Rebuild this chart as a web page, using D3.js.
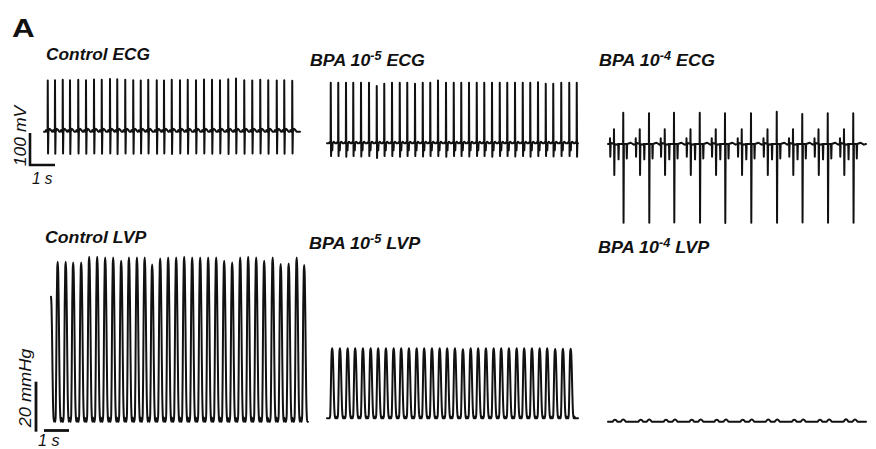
<!DOCTYPE html>
<html><head><meta charset="utf-8">
<script src="https://cdn.jsdelivr.net/npm/d3@7/dist/d3.min.js"></script>
<style>
body{margin:0;background:#fff}
svg{display:block}
text{font-family:"Liberation Sans",Arial,Helvetica,sans-serif;fill:#111}
</style>
</head><body>
<svg id="c" width="876" height="449"></svg>
<script>
// ---------------- DATA ----------------
// Titles
const titleMain = ["Control ECG", "BPA 10", "BPA 10", "Control LVP", "BPA 10", "BPA 10"];
const titleSup  = ["", "-5", "-4", "", "-5", "-4"];
const titleTail = ["", " ECG", " ECG", "", " LVP", " LVP"];
const panelLetter = "A";
const ecgBarLabel = "100 mV";
const lvpBarLabel = "20 mmHg";
const timeBarLabel = "1 s";
const ecgBarValue = 100;   // mV
const lvpBarValue = 20;    // mmHg
const timeBarValue = 1;    // s

// Trace durations (s)
const ecgDurations = [10.24, 10.04, 10.32];
const lvpDurations = [10.28, 10.04, 10.32];

// Control ECG: R-spike times (s), R amplitude (mV), S amplitude (mV)
const ctrlEcgTimes = [0.15,0.44,0.75,1.04,1.37,1.68,2.00,2.31,2.64,2.93,3.25,3.57,3.87,4.17,4.51,4.80,5.11,5.44,5.75,6.08,6.40,6.72,7.04,7.37,7.68,8.01,8.33,8.65,8.97,9.31,9.61,9.93];
const ctrlEcgUp    = [160,161,162,161,162,161,163,162,165,164,162,161,160,162,161,160,162,161,162,161,163,162,161,164,166,161,160,162,161,160,161,159];
const ctrlEcgDown  = [-68,-69,-68,-70,-68,-69,-68,-69,-68,-70,-68,-69,-68,-68,-69,-68,-70,-68,-69,-68,-68,-69,-68,-70,-68,-69,-68,-68,-69,-68,-69,-68];

// BPA 10^-5 ECG
const bpa5EcgTimes = [0.15,0.45,0.76,1.05,1.36,1.68,1.99,2.29,2.60,2.91,3.21,3.52,3.83,4.13,4.44,4.76,5.07,5.37,5.68,5.99,6.29,6.60,6.91,7.21,7.52,7.83,8.13,8.44,8.75,9.05,9.37,9.69,9.99];
const bpa5EcgUp    = [189,189,189,189,189,189,179,186,189,189,189,186,189,189,196,189,189,189,189,189,189,189,189,189,189,189,189,191,186,186,189,189,189];
const bpa5EcgDown  = [-40,-40,-42,-40,-41,-40,-46,-40,-40,-42,-40,-40,-41,-40,-40,-42,-40,-40,-41,-40,-40,-42,-40,-40,-41,-40,-42,-40,-40,-41,-40,-40,-42];

// BPA 10^-4 ECG: large complexes plus minor deflections around each
const bpa4EcgTimes = [0.61,1.64,2.64,3.67,4.68,5.72,6.75,7.77,8.79,9.81];
const bpa4EcgUp    = [98,96,98,98,96,96,101,94,96,96];
const bpa4EcgDown  = [-246,-246,-245,-246,-247,-246,-246,-245,-246,-246];
const bpa4MinorOffset = [-0.53,-0.37,-0.20,0.13];
const bpa4MinorUp     = [18,46,0,0];
const bpa4MinorDown   = [-40,-97,-48,-45];

// Control LVP: systolic peak times (s) and peak pressure (mmHg above diastolic)
const ctrlLvpTimes = [0.00,0.27,0.59,0.89,1.21,1.53,1.85,2.17,2.49,2.81,3.12,3.44,3.75,4.05,4.37,4.69,5.01,5.33,5.65,5.97,6.29,6.61,6.93,7.25,7.57,7.89,8.21,8.53,8.87,9.19,9.51,9.83,10.13];
const ctrlLvpPeaks = [50,64.0,64.0,63.7,63.7,66.0,66.0,65.7,65.7,64.4,65.7,65.7,65.7,62.9,65.3,65.7,65.7,66.0,65.7,65.7,65.7,65.7,64.4,63.7,65.7,66.0,65.7,64.4,65.7,63.1,63.3,65.7,62.7];

// BPA 10^-5 LVP
const bpa5LvpTimes = [0.21,0.52,0.83,1.13,1.44,1.75,2.05,2.36,2.67,2.97,3.28,3.59,3.89,4.20,4.51,4.81,5.12,5.44,5.75,6.05,6.36,6.67,6.97,7.28,7.59,7.89,8.20,8.51,8.81,9.13,9.44,9.75];
const bpa5LvpPeaks = [28,28,28,28,28,28,28,28,28,28,28,28,28,28,28,28,28,27.6,28,28,28,28,28,28,28,28,28,28,28,27.7,27.8,27.8];

// BPA 10^-4 LVP: tiny residual bumps
const bpa4LvpTimes = [0.28,0.61,1.31,1.65,2.32,2.68,3.35,3.71,4.35,4.72,5.39,5.75,6.41,6.77,7.45,7.81,8.48,8.85,9.52,9.88];
const bpa4LvpPeaks = [0.8,0.9,0.8,0.9,0.8,0.9,0.8,0.9,0.8,0.9,0.8,0.9,0.9,0.9,0.8,0.9,0.8,0.9,1.0,0.9];

// ---------------- LAYOUT ----------------
const PX_PER_S = 25;
const ECG_PX_PER_100 = 32;
const LVP_PX_PER_20 = 50;
const ecgX0 = [44, 327, 608];
const ecgBase = [131.7, 143.3, 144];
const lvpX0 = [51, 327, 608];
const lvpBase = [421.7, 418.3, 421.7];
const titlePos = [[46,60,104],[310,66,115],[599,66,116],[45,243,102],[309,249,112],[598,252.5,112]];
const INK = "#111";

const svg = d3.select("#c");

function makeX(x0, dur){ return d3.scaleLinear().domain([0,dur]).range([x0, x0+dur*PX_PER_S]); }
function makeEcgY(base){ return d3.scaleLinear().domain([0,100]).range([base, base-ECG_PX_PER_100]); }
function makeLvpY(base){ return d3.scaleLinear().domain([0,20]).range([base, base-LVP_PX_PER_20]); }

// waveform shapes
function spike(t, up, down){ return [[t-0.006,0],[t,up],[t+0.012,down],[t+0.026,0]]; }
function ctrlEcgBeat(t,u,d){ return [[t-0.10,0],[t-0.07,5],[t-0.04,0]].concat(spike(t,u,d),[[t+0.07,9],[t+0.12,6],[t+0.17,0]]); }
function bpa5EcgBeat(t,u,d){ return [[t-0.08,0],[t-0.05,3]].concat(spike(t,u,d),[[t+0.05,0],[t+0.06,-22],[t+0.075,0],[t+0.12,5],[t+0.18,0]]); }
const lvpShape = [[-0.10,0],[-0.08,0.05],[-0.06,0.35],[-0.04,0.75],[-0.02,0.96],[0,1],[0.02,0.93],[0.04,0.72],[0.06,0.42],[0.08,0.16],[0.10,0.04],[0.12,0],[0.15,0.025],[0.18,0]];
const bumpShape = [[-0.10,0],[-0.05,0.7],[0,1],[0.05,0.7],[0.10,0]];

function finish(pts, dur){
  pts = pts.filter(p => p[0] >= 0 && p[0] <= dur).sort((a,b)=>a[0]-b[0]);
  if (pts.length === 0 || pts[0][0] > 0) pts.unshift([0,0]);
  if (pts[pts.length-1][0] < dur) pts.push([dur,0]);
  return pts;
}

function drawTrace(pts, x, y, width, curve){
  const line = d3.line().x(d=>x(d[0])).y(d=>y(d[1])).curve(curve || d3.curveLinear);
  svg.append("path").attr("d", line(pts)).attr("fill","none").attr("stroke",INK)
    .attr("stroke-width",width).attr("stroke-linejoin","round").attr("stroke-linecap","round");
}

// ---- ECG traces ----
{
  const x = makeX(ecgX0[0], ecgDurations[0]), y = makeEcgY(ecgBase[0]);
  let pts = [];
  ctrlEcgTimes.forEach((t,i)=>{ pts = pts.concat(ctrlEcgBeat(t, ctrlEcgUp[i], ctrlEcgDown[i])); });
  drawTrace(finish(pts, ecgDurations[0]), x, y, 2);
}
{
  const x = makeX(ecgX0[1], ecgDurations[1]), y = makeEcgY(ecgBase[1]);
  let pts = [];
  bpa5EcgTimes.forEach((t,i)=>{ pts = pts.concat(bpa5EcgBeat(t, bpa5EcgUp[i], bpa5EcgDown[i])); });
  drawTrace(finish(pts, ecgDurations[1]), x, y, 2);
}
{
  const x = makeX(ecgX0[2], ecgDurations[2]), y = makeEcgY(ecgBase[2]);
  let pts = [];
  bpa4EcgTimes.forEach((t,i)=>{
    pts = pts.concat(spike(t, bpa4EcgUp[i], bpa4EcgDown[i]));
    bpa4MinorOffset.forEach((o,j)=>{ pts = pts.concat(spike(t+o, bpa4MinorUp[j], bpa4MinorDown[j])); });
    pts.push([t-0.46,3],[t-0.28,-2],[t+0.3,4],[t+0.42,-2]);
  });
  drawTrace(finish(pts, ecgDurations[2]), x, y, 2);
}

// ---- LVP traces ----
function lvpTrace(idx, times, peaks, shape){
  const x = makeX(lvpX0[idx], lvpDurations[idx]), y = makeLvpY(lvpBase[idx]);
  let pts = [];
  times.forEach((t,i)=>{ shape.forEach(s=>pts.push([t+s[0], s[1]*peaks[i]])); });
  drawTrace(finish(pts, lvpDurations[idx]), x, y, 2, d3.curveMonotoneX);
}
lvpTrace(0, ctrlLvpTimes, ctrlLvpPeaks, lvpShape);
lvpTrace(1, bpa5LvpTimes, bpa5LvpPeaks, lvpShape);
lvpTrace(2, bpa4LvpTimes, bpa4LvpPeaks, bumpShape);

// ---- text helpers ----
function fitWidth(t, x, yb, width, extra){
  const w = t.node().getBBox().width;
  t.attr("transform", `translate(${x},${yb}) ${extra||""} scale(${width/w},1)`);
}
titleMain.forEach((m,i)=>{
  const t = svg.append("text").attr("font-weight","bold").attr("font-style","italic").attr("font-size",17);
  t.append("tspan").text(m);
  if (titleSup[i]) {
    t.append("tspan").attr("dy",-6).attr("font-size",12).text(titleSup[i]);
    t.append("tspan").attr("dy",6).text(titleTail[i]);
  }
  fitWidth(t, titlePos[i][0], titlePos[i][1], titlePos[i][2]);
});
{
  const t = svg.append("text").attr("font-weight","bold").attr("font-size",26).text(panelLetter);
  fitWidth(t, 12, 37, 23);
}

// ---- scale bars ----
{
  const x = makeX(30, 2), y = makeEcgY(165);
  const g = svg.append("g").attr("fill","none").attr("stroke",INK).attr("stroke-width",2.6);
  g.append("path").attr("d", `M${x(0)},${y(ecgBarValue)}V${y(0)}H${x(timeBarValue)}`).attr("stroke-linejoin","miter");
  const t = svg.append("text").attr("font-style","italic").attr("font-size",16).attr("text-anchor","middle").text(ecgBarLabel);
  const w = t.node().getBBox().width;
  t.attr("transform", `translate(26,136) rotate(-90) scale(${62/w},1)`);
  const s = svg.append("text").attr("font-style","italic").attr("font-size",17).text(timeBarLabel);
  fitWidth(s, 32, 184, 21);
}
{
  const x = makeX(44, 2), y = makeLvpY(431.7);
  const g = svg.append("g").attr("fill","none").attr("stroke",INK).attr("stroke-width",2.8);
  g.append("line").attr("x1",36).attr("x2",36).attr("y1",y(lvpBarValue)).attr("y2",y(0));
  g.append("line").attr("x1",x(0)).attr("x2",x(timeBarValue)).attr("y1",430.5).attr("y2",430.5);
  const t = svg.append("text").attr("font-style","italic").attr("font-size",16).attr("text-anchor","middle").text(lvpBarLabel);
  const w = t.node().getBBox().width;
  t.attr("transform", `translate(31,388) rotate(-90) scale(${80/w},1)`);
  const s = svg.append("text").attr("font-style","italic").attr("font-size",17).text(timeBarLabel);
  fitWidth(s, 38, 446, 22);
}
</script>
</body></html>
